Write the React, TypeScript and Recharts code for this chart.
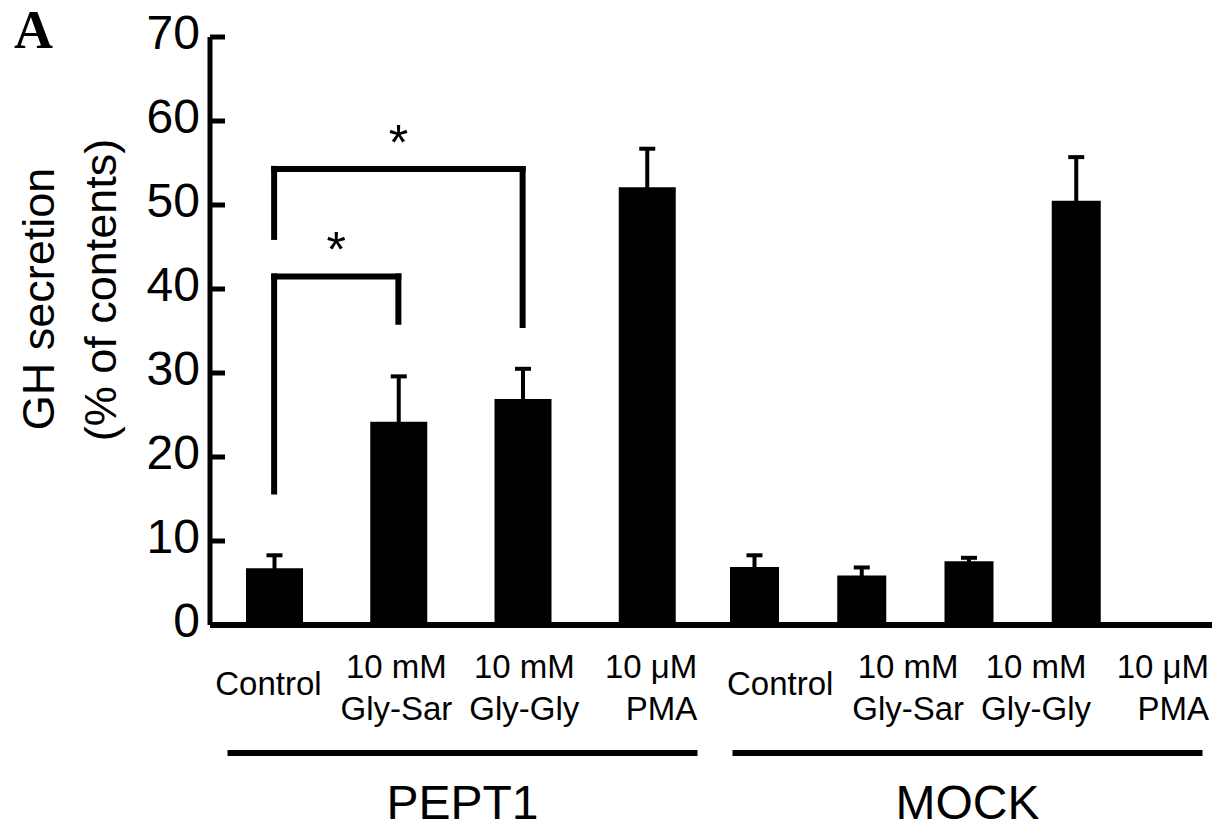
import React from "react";
import { BarChart, Bar, XAxis, YAxis, ErrorBar, ReferenceLine } from "recharts";

const FONT = "'Liberation Sans', Arial, Helvetica, sans-serif";

// 8 conditions, two cell lines
const categories = [
  "P-Control",
  "P-GlySar",
  "P-GlyGly",
  "P-PMA",
  "M-Control",
  "M-GlySar",
  "M-GlyGly",
  "M-PMA",
];
const groups = ["PEPT1", "PEPT1", "PEPT1", "PEPT1", "MOCK", "MOCK", "MOCK", "MOCK"];
const tickLabels = [
  ["Control"],
  ["10 mM", "Gly-Sar"],
  ["10 mM", "Gly-Gly"],
  ["10 μM", "PMA"],
  ["Control"],
  ["10 mM", "Gly-Sar"],
  ["10 mM", "Gly-Gly"],
  ["10 μM", "PMA"],
];
const secretion = [6.75, 24.2, 26.9, 52.1, 6.9, 5.9, 7.6, 50.5];
const sem = [1.55, 5.4, 3.6, 4.6, 1.4, 0.95, 0.4, 5.2];
const yTicks = [0, 10, 20, 30, 40, 50, 60, 70];

// significance brackets (y values in % of contents)
const brackets = [
  { from: "P-Control", to: "P-GlySar", top: 41.5, fromEnd: 15.9, toEnd: 36.1 },
  { from: "P-Control", to: "P-GlyGly", top: 54.3, fromEnd: 46.2, toEnd: 35.7 },
];

const data = categories.map((id, i) => {
  const isPept = groups[i] === "PEPT1";
  return {
    id,
    group: groups[i],
    pept: isPept ? secretion[i] : null,
    peptErr: isPept ? sem[i] : null,
    mock: isPept ? null : secretion[i],
    mockErr: isPept ? null : sem[i],
  };
});

function CondTick(props: any) {
  const { x, y, payload } = props;
  const lines = tickLabels[categories.indexOf(payload.value)] || [];
  const common = { fontFamily: FONT, fontSize: 33, fill: "#000" };
  if (lines.length === 1) {
    return (
      <text x={x} y={y + 69} textAnchor="middle" {...common}>
        {lines[0]}
      </text>
    );
  }
  const alignEnd = lines[1] === "PMA";
  const tx = alignEnd ? x + 45 : x;
  const anchor = alignEnd ? "end" : "middle";
  return (
    <g>
      <text x={tx} y={y + 52} textAnchor={anchor} {...common}>
        {lines[0]}
      </text>
      <text x={tx} y={y + 94} textAnchor={anchor} {...common}>
        {lines[1]}
      </text>
    </g>
  );
}

function GroupTick(props: any) {
  const { x, y, payload } = props;
  return (
    <g>
      <line x1={x - 235} x2={x + 235} y1={y + 7} y2={y + 7} stroke="#000" strokeWidth={6} />
      <text x={x} y={y + 73} textAnchor="middle" fontFamily={FONT} fontSize={48} fill="#000">
        {payload.value}
      </text>
    </g>
  );
}

function YTitle(props: any) {
  const vb = props.viewBox || { x: 0, y: 37, width: 210, height: 588 };
  const cy = vb.y + vb.height / 2 - 32;
  return (
    <g fill="#000">
      <text x={14} y={48} fontFamily="'Liberation Serif', 'Times New Roman', serif" fontWeight="bold" fontSize={54}>
        A
      </text>
      <text
        x={38}
        y={cy}
        transform={`rotate(-90 38 ${cy})`}
        textAnchor="middle"
        dominantBaseline="central"
        fontFamily={FONT}
        fontSize={45}
      >
        GH secretion
      </text>
      <text
        x={100}
        y={cy - 9}
        transform={`rotate(-90 100 ${cy - 9})`}
        textAnchor="middle"
        dominantBaseline="central"
        fontFamily={FONT}
        fontSize={45}
      >
        (% of contents)
      </text>
    </g>
  );
}

const condTick = <CondTick />;
const groupTick = <GroupTick />;
const yTitle = <YTitle />;
const peptPad = { left: 2, right: 14 };
const mockPad = { left: 62, right: 90 };
const labelPad = { left: -5.5, right: -8 };
const axisLine = { stroke: "#000", strokeWidth: 6 };
const yAxisLine = { stroke: "#000", strokeWidth: 5 };
const yTick = { fontSize: 48, fill: "#000", fontFamily: FONT, dy: -5 };
const starLabel = { value: "*", position: "top" as const, offset: 9, fontSize: 50, fill: "#000", fontFamily: FONT };

export default function App() {
  const line = { stroke: "#000", strokeWidth: 6, strokeLinecap: "square" as const };
  return (
    <div style={{ width: 1220, height: 828, marginTop: -8, marginLeft: -8, background: "#fff" }}>
      <BarChart width={1220} height={828} data={data} margin={{ top: 37, right: 0, bottom: 0, left: 0 }}>
        <XAxis
          xAxisId={0}
          dataKey="id"
          height={1}
          tick={false}
          tickLine={false}
          axisLine={axisLine}
          padding={peptPad}
        />
        <XAxis
          xAxisId={1}
          dataKey="id"
          height={120}
          interval={0}
          tickSize={0}
          tickMargin={0}
          tickLine={false}
          axisLine={false}
          tick={condTick}
          padding={labelPad}
        />
        <XAxis
          xAxisId={2}
          dataKey="group"
          allowDuplicatedCategory={false}
          height={82}
          interval={0}
          tickSize={0}
          tickMargin={0}
          tickLine={false}
          axisLine={false}
          tick={groupTick}
        />
        <XAxis xAxisId={3} dataKey="id" hide padding={mockPad} />
        <YAxis
          width={210}
          domain={[0, 70]}
          ticks={yTicks}
          interval={0}
          tickSize={-15}
          tickMargin={25}
          axisLine={yAxisLine}
          tickLine={yAxisLine}
          tick={yTick}
          label={yTitle}
        />
        <Bar xAxisId={0} dataKey="pept" fill="#000" barSize={57} isAnimationActive={false}>
          <ErrorBar dataKey="peptErr" direction="y" width={8} stroke="#000" strokeWidth={4} isAnimationActive={false} />
        </Bar>
        <Bar xAxisId={3} dataKey="mock" fill="#000" barSize={49} isAnimationActive={false}>
          <ErrorBar dataKey="mockErr" direction="y" width={8} stroke="#000" strokeWidth={4} isAnimationActive={false} />
        </Bar>
        {brackets.map((b, i) => (
          <ReferenceLine
            key={`h${i}`}
            xAxisId={0}
            segment={[
              { x: b.from, y: b.top },
              { x: b.to, y: b.top },
            ]}
            {...line}
            label={starLabel}
          />
        ))}
        {brackets.map((b, i) => (
          <ReferenceLine
            key={`l${i}`}
            xAxisId={0}
            segment={[
              { x: b.from, y: b.top },
              { x: b.from, y: b.fromEnd },
            ]}
            {...line}
          />
        ))}
        {brackets.map((b, i) => (
          <ReferenceLine
            key={`r${i}`}
            xAxisId={0}
            segment={[
              { x: b.to, y: b.top },
              { x: b.to, y: b.toEnd },
            ]}
            {...line}
          />
        ))}
      </BarChart>
    </div>
  );
}
